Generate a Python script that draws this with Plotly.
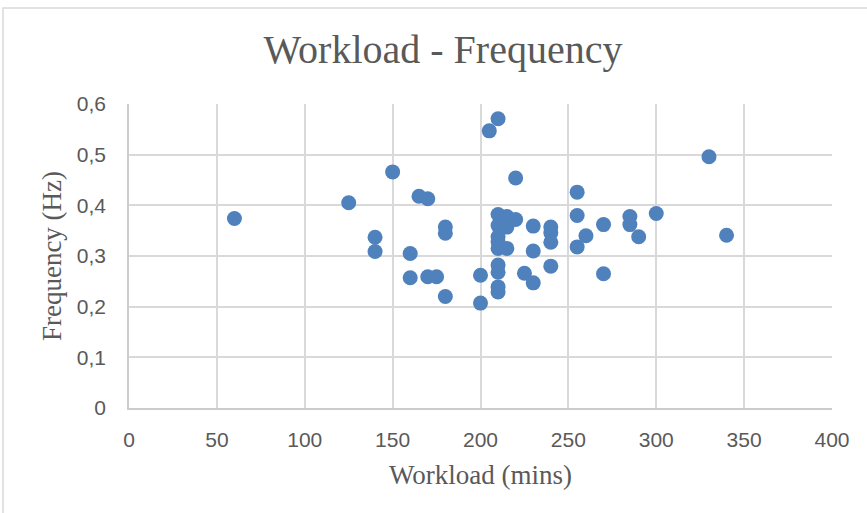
import plotly.graph_objects as go

# Workload (minutes) against measured frequency (Hz) for each session
workload_mins = [
    60, 125, 150, 140, 140, 160, 160, 165, 170, 170, 175,
    180, 180, 180, 200, 200, 205, 210, 220,
    210, 210, 210, 210, 210, 210, 210, 210, 210,
    215, 215, 215, 220,
    225, 230, 230, 230,
    240, 240, 240, 240,
    255, 255, 255, 260, 270, 270, 285, 285, 290, 300, 330, 340,
]
frequency_hz = [
    0.374, 0.405, 0.466, 0.337, 0.309, 0.305, 0.257, 0.418, 0.413, 0.259, 0.259,
    0.357, 0.345, 0.220, 0.262, 0.207, 0.547, 0.571, 0.454,
    0.382, 0.360, 0.338, 0.328, 0.315, 0.282, 0.268, 0.239, 0.229,
    0.378, 0.357, 0.315, 0.372,
    0.266, 0.359, 0.310, 0.247,
    0.357, 0.346, 0.327, 0.280,
    0.426, 0.380, 0.318, 0.340, 0.362, 0.265, 0.378, 0.362, 0.338, 0.384, 0.496, 0.341,
]

x_ticks = [0, 50, 100, 150, 200, 250, 300, 350, 400]
y_ticks = [0, 0.1, 0.2, 0.3, 0.4, 0.5, 0.6]
y_tick_text = ["0", "0,1", "0,2", "0,3", "0,4", "0,5", "0,6"]

grid = "#d9d9d9"
axis_line = "#cccccc"
text_grey = "#595959"
serif = "Liberation Serif, DejaVu Serif, serif"
sans = "Liberation Sans, Arial, sans-serif"

fig = go.Figure(
    go.Scatter(
        x=workload_mins,
        y=frequency_hz,
        mode="markers",
        marker=dict(size=15, color="#4F81BD", line=dict(width=0)),
        hoverinfo="x+y",
    )
)

fig.update_layout(
    width=867,
    height=513,
    margin=dict(l=129, r=35, t=104, b=105),
    paper_bgcolor="white",
    plot_bgcolor="white",
    showlegend=False,
    title=dict(
        text="Workload - Frequency",
        font=dict(family=serif, size=40, color=text_grey),
        x=443 / 867,
        xref="container",
        xanchor="center",
        y=1 - 48.5 / 513,
        yref="container",
        yanchor="middle",
    ),
    xaxis=dict(
        range=[0, 400],
        tickvals=x_ticks,
        ticktext=[str(v) for v in x_ticks],
        showgrid=True,
        gridcolor=grid,
        gridwidth=1.5,
        zeroline=False,
        showline=True,
        linecolor=axis_line,
        linewidth=1.5,
        ticks="",
        ticklabelstandoff=12,
        tickfont=dict(family=sans, size=21, color=text_grey),
        title=dict(
            text="Workload (mins)",
            font=dict(family=serif, size=27, color=text_grey),
            standoff=15,
        ),
    ),
    yaxis=dict(
        range=[0, 0.6],
        tickvals=y_ticks,
        ticktext=y_tick_text,
        showgrid=True,
        gridcolor=grid,
        gridwidth=1.5,
        zeroline=False,
        showline=True,
        linecolor=axis_line,
        linewidth=1.5,
        ticks="",
        ticklabelstandoff=17,
        tickfont=dict(family=sans, size=21, color=text_grey),
        title=dict(
            text="Frequency (Hz)",
            font=dict(family=serif, size=27, color=text_grey),
            standoff=7,
        ),
    ),
    shapes=[
        # chart area border
        dict(
            type="rect",
            xref="paper",
            yref="paper",
            x0=(3 - 129) / 703,
            x1=(880 - 129) / 703,
            y0=(408 - 530) / 304,
            y1=(408 - 8) / 304,
            line=dict(color=grid, width=1.5),
            layer="below",
        )
    ],
)

fig.write_html("out.html")
